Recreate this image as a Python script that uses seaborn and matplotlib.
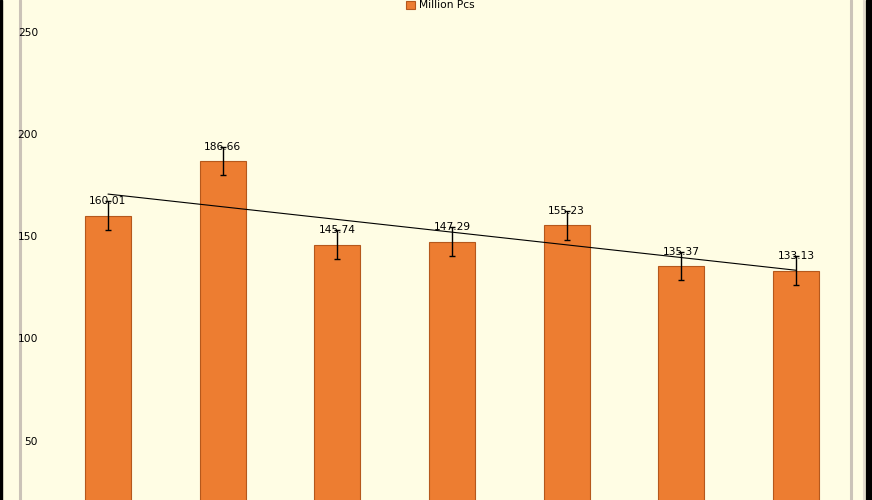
import numpy as np
import pandas as pd
import matplotlib
matplotlib.use('Agg')
import matplotlib.pyplot as plt
import seaborn as sns
from matplotlib.patches import Rectangle, Patch
from matplotlib.lines import Line2D

# Data
categories = ['1', '2', '3', '4', '5', '6', '7']
values = [160.01, 186.66, 145.74, 147.29, 155.23, 135.37, 133.13]
errors = [7, 7, 7, 7, 7, 7, 7]
yticks = [50, 100, 150, 200, 250]
series_name = 'Million Pcs'

df = pd.DataFrame({'cat': categories, 'val': values})

bar_color = '#ED7D31'
bg_color = '#FFFDE4'
fs = 7.7

sns.set_style('white')
plt.rcParams['font.family'] = ['DejaVu Sans']
plt.rcParams['text.color'] = 'black'
plt.rcParams['ytick.color'] = 'black'

fig = plt.figure(figsize=(8.72, 5.0), dpi=100)
fig.patch.set_facecolor(bg_color)
ax = fig.add_axes([0, 0, 1, 1])
ax.set_facecolor(bg_color)

sns.barplot(data=df, x='cat', y='val', color=bar_color, width=0.4,
            edgecolor='#B5581C', linewidth=0.8, errorbar=None, ax=ax,
            saturation=1)
x = np.arange(len(values))
ax.errorbar(x, values, yerr=errors, fmt='none', ecolor='black',
            elinewidth=1.0, capsize=2.3, capthick=1.0, zorder=4)

# value labels
for xi, v, e in zip(x, values, errors):
    ax.text(xi, v + e, f'{v:.2f}', ha='center', va='center', fontsize=fs,
            color='black', zorder=5)

# linear trend line
slope, intercept = np.polyfit(x, values, 1)
ax.plot([x[0], x[-1]], [intercept, intercept + slope * x[-1]],
        color='black', lw=0.8, zorder=3)

ax.set_xlim(-0.942, 6.663)
ax.set_ylim(21.0, 265.4)
ax.set_yticks(yticks)
ax.set_yticklabels([str(t) for t in yticks])
ax.set_xticks([])
ax.tick_params(axis='y', length=0, pad=-27.4, labelsize=fs, labelcolor='black')
for lab in ax.get_yticklabels():
    lab.set_horizontalalignment('right')
ax.set_xlabel('')
ax.set_ylabel('')
for s in ax.spines.values():
    s.set_visible(False)

# frame lines (below the tick labels)
ax.add_line(Line2D([19.5 / 872] * 2, [0, 1], transform=ax.transAxes,
                   color='#CBC3B8', lw=2.2, zorder=0.5))
ax.add_line(Line2D([850.5 / 872] * 2, [0, 1], transform=ax.transAxes,
                   color='#CBC3B8', lw=2.2, zorder=0.5))
ax.add_line(Line2D([864 / 872] * 2, [0, 1], transform=ax.transAxes,
                   color='#E2DACD', lw=1.5, zorder=0.5))
fig.patches.append(Rectangle((0, 0), 2 / 872, 1, transform=fig.transFigure,
                             color='black', zorder=10))
fig.patches.append(Rectangle((866 / 872, 0), 6 / 872, 1, transform=fig.transFigure,
                             color='black', zorder=10))

handle = Patch(facecolor=bar_color, edgecolor='#B5581C', linewidth=0.8)
leg = ax.legend([handle], [series_name], loc='center',
                bbox_to_anchor=(0.505, 1 - 5.5 / 500), frameon=False, fontsize=fs,
                handlelength=0.8, handleheight=0.8, handletextpad=0.4,
                borderaxespad=0, borderpad=0)
for t in leg.get_texts():
    t.set_color('black')

fig.savefig('out.png', dpi=100, facecolor=bg_color)
